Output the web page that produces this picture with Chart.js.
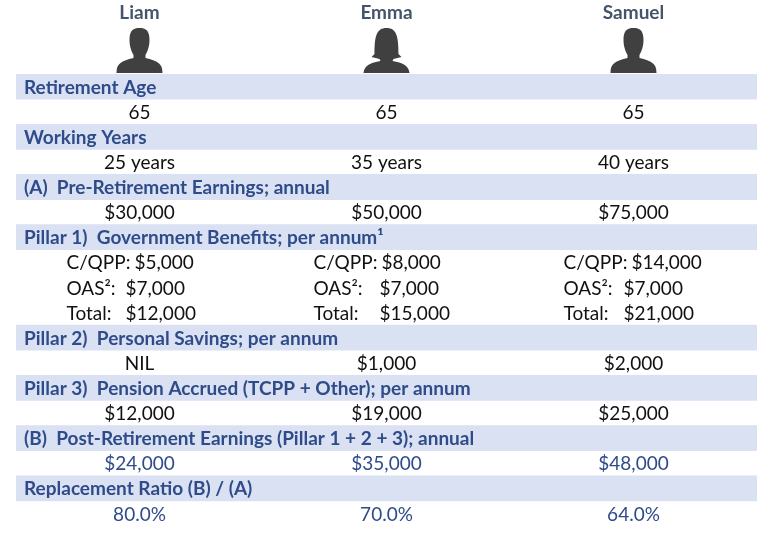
<!DOCTYPE html>
<html>
<head>
<meta charset="utf-8">
<script src="https://cdn.jsdelivr.net/npm/chart.js@4"></script>
<style>
    html, body {margin: 0; padding: 0; background: #FFF;}
    .chart_box {position: relative; width: 777px; height: 541px;}
</style>
</head>
<body>
<div class="chart_box"><canvas id="chart_pillars"></canvas></div>
<script>
//사람 - 이름
const people = ['Liam', 'Emma', 'Samuel'];
const genders = ['m', 'f', 'm'];

//구간 제목
const sectionTitles = [
    'Retirement Age',
    'Working Years',
    '(A)  Pre-Retirement Earnings; annual',
    'Pillar 1)  Government Benefits; per annum\u00B9',
    'Pillar 2)  Personal Savings; per annum',
    'Pillar 3)  Pension Accrued (TCPP + Other); per annum',
    '(B)  Post-Retirement Earnings (Pillar 1 + 2 + 3); annual',
    'Replacement Ratio (B) / (A)'
];

//값
const retirementAge = [65, 65, 65];
const workingYears = [25, 35, 40];
const preEarnings = [30000, 50000, 75000];
const cqpp = [5000, 8000, 14000];
const oas = [7000, 7000, 7000];
const pillar1Total = [12000, 15000, 21000];
const personalSavings = [0, 1000, 2000];
const pensionAccrued = [12000, 19000, 25000];
const postEarnings = [24000, 35000, 48000];
const replacementRatio = [80.0, 70.0, 64.0];

//pillar 1 세부 라벨
const pillar1Labels = ['C/QPP:', 'OAS\u00B2:', 'Total:'];

const money = v => '$' + v.toLocaleString('en-US');

//row 구성 - band(제목) / value(값)
const rows = [];
function addSection(title, lines, blue = false) {
    rows.push({kind: 'band', text: title});
    lines.forEach(line => rows.push({kind: 'value', cells: line, blue}));
}
addSection(sectionTitles[0], [retirementAge.map(String)]);
addSection(sectionTitles[1], [workingYears.map(v => v + ' years')]);
addSection(sectionTitles[2], [preEarnings.map(money)]);
rows.push({kind: 'band', text: sectionTitles[3]});
[cqpp, oas, pillar1Total].forEach((arr, i) => {
    rows.push({kind: 'split', label: pillar1Labels[i], cells: arr.map(money), first: i === 0});
});
addSection(sectionTitles[4], [personalSavings.map(v => v === 0 ? 'NIL' : money(v))]);
addSection(sectionTitles[5], [pensionAccrued.map(money)]);
addSection(sectionTitles[6], [postEarnings.map(money)], true);
addSection(sectionTitles[7], [replacementRatio.map(v => v.toFixed(1) + '%')], true);

const rowLabels = rows.map((r, i) => 'row' + i);
const bandData = rows.map(r => r.kind === 'band' ? [0, people.length] : null);

//아이콘 - 사람 실루엣
function drawPerson(ctx, cx, top, gender) {
    ctx.save();
    ctx.fillStyle = '#404040';
    ctx.beginPath();
    if (gender === 'f') {
        //hair + head
        ctx.moveTo(cx - 12, top + 26);
        ctx.bezierCurveTo(cx - 12, top + 8, cx - 10, top, cx, top);
        ctx.bezierCurveTo(cx + 10, top, cx + 12, top + 8, cx + 12, top + 26);
        ctx.lineTo(cx + 15, top + 29);
        ctx.lineTo(cx + 7, top + 31);
        ctx.lineTo(cx + 6, top + 33);
        ctx.bezierCurveTo(cx + 16, top + 35, cx + 22, top + 37, cx + 23, top + 45);
        ctx.lineTo(cx - 23, top + 45);
        ctx.bezierCurveTo(cx - 22, top + 37, cx - 16, top + 35, cx - 6, top + 33);
        ctx.lineTo(cx - 7, top + 31);
        ctx.lineTo(cx - 15, top + 29);
        ctx.closePath();
    } else {
        ctx.moveTo(cx - 10, top + 12);
        ctx.bezierCurveTo(cx - 10, top + 2, cx - 6, top, cx, top);
        ctx.bezierCurveTo(cx + 6, top, cx + 10, top + 2, cx + 10, top + 12);
        ctx.bezierCurveTo(cx + 10, top + 20, cx + 7, top + 25, cx + 6, top + 27);
        ctx.lineTo(cx + 6, top + 30);
        ctx.bezierCurveTo(cx + 18, top + 33, cx + 23, top + 35, cx + 23, top + 45);
        ctx.lineTo(cx - 23, top + 45);
        ctx.bezierCurveTo(cx - 23, top + 35, cx - 18, top + 33, cx - 6, top + 30);
        ctx.lineTo(cx - 6, top + 27);
        ctx.bezierCurveTo(cx - 7, top + 25, cx - 10, top + 20, cx - 10, top + 12);
        ctx.closePath();
    }
    ctx.fill();
    ctx.restore();
}

//pillar 1 값 위치 보정
const splitLabelShift = [-73, -73, -70];
const splitValueShift = [-14, -7, -10];

//text plugin
const tableText = {
    id: 'tableText',
    afterDatasetsDraw(chart) {
        const {ctx, scales: {x, y}} = chart;
        const colX = i => x.getPixelForValue(i + 0.5);
        ctx.save();
        //이름 + 아이콘
        ctx.textAlign = 'center';
        ctx.textBaseline = 'middle';
        ctx.fillStyle = '#44546A';
        ctx.font = 'bold 19px Lato';
        people.forEach((name, i) => {
            ctx.fillText(name, colX(i), 13);
            drawPerson(ctx, colX(i), 28, genders[i]);
        });
        rows.forEach((r, ri) => {
            const cy = y.getPixelForValue(ri) + 1;
            if (r.kind === 'band') {
                ctx.textAlign = 'left';
                ctx.fillStyle = '#2F4B8A';
                ctx.font = 'bold 19px Lato';
                ctx.fillText(r.text, x.left + 8, cy);
            } else if (r.kind === 'value') {
                ctx.textAlign = 'center';
                ctx.fillStyle = r.blue ? '#2F4B8A' : '#111';
                ctx.font = '19px Lato';
                r.cells.forEach((c, i) => ctx.fillText(c, colX(i), cy));
            } else {
                ctx.textAlign = 'left';
                ctx.fillStyle = '#111';
                ctx.font = '19px Lato';
                r.cells.forEach((c, i) => {
                    const lx = colX(i) + splitLabelShift[i];
                    ctx.fillText(r.label, lx, cy);
                    const minX = lx + ctx.measureText(r.label).width + 4;
                    const vx = Math.max(colX(i) + splitValueShift[i], minX);
                    ctx.fillText(c, vx, cy);
                });
            }
        });
        ctx.restore();
    }
};

new Chart(document.getElementById('chart_pillars'), {
    type: 'bar',
    data: {
        labels: rowLabels,
        datasets: [{
            data: bandData,
            backgroundColor: '#D9E1F2',
            borderWidth: 0,
            barPercentage: 1,
            categoryPercentage: 1
        }]
    },
    options: {
        indexAxis: 'y',
        responsive: true,
        maintainAspectRatio: false,
        animation: false,
        layout: {padding: {top: 74, left: 16, right: 20, bottom: 15}},
        plugins: {legend: {display: false}, tooltip: {enabled: false}},
        scales: {
            x: {min: 0, max: people.length, display: false},
            y: {display: false}
        }
    },
    plugins: [tableText]
});
</script>
</body>
</html>
